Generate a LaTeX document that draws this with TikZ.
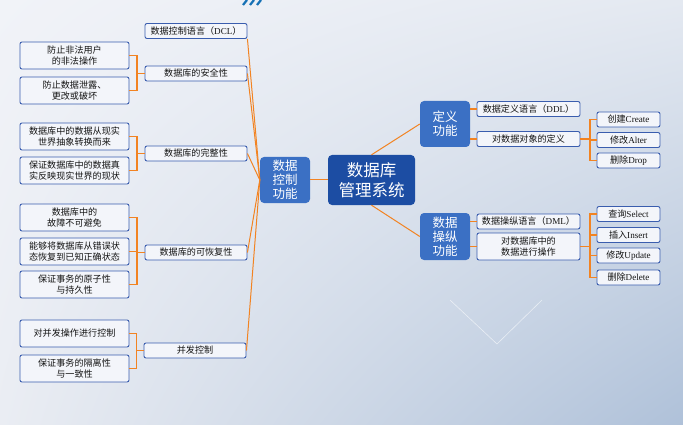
\documentclass[tikz,border=0pt]{standalone}
\usepackage{fontspec}
\setmainfont{Liberation Serif}
\newfontfamily\cjk{Noto Sans CJK SC}
\usetikzlibrary{calc,shadings}
\definecolor{bord}{HTML}{3A5DAE}
\definecolor{boxfill}{HTML}{F3F5FA}
\definecolor{orn}{HTML}{F28322}
\definecolor{midblue}{HTML}{3B70C4}
\definecolor{darkblue}{HTML}{1C4DA3}
\definecolor{bgA}{HTML}{F1F3F8}
\definecolor{bgB}{HTML}{E4E9F1}
\definecolor{bgC}{HTML}{EAEDF3}
\definecolor{bgD}{HTML}{AFC1D9}
\begin{document}
\begin{tikzpicture}[x=1pt,y=-1pt,
  box/.style={draw=bord,fill=boxfill,rounded corners=2pt,line width=0.9pt,inner sep=0pt,align=center,font=\fontsize{9.1}{10.6}\selectfont\cjk,text=black!92},
  leaf/.style={box,minimum width=109pt,minimum height=27pt},
  cat/.style={box,minimum width=102pt,minimum height=15pt},
  rcat/.style={box,minimum width=103pt,minimum height=15pt},
  op/.style={box,minimum width=63pt,minimum height=15pt},
  func/.style={fill=midblue,rounded corners=4pt,inner sep=0pt,align=center,text=white,font=\fontsize{12.5}{14}\selectfont\cjk,minimum width=50pt,minimum height=46pt},
  link/.style={draw=orn,line width=1pt},
  brk/.style={draw=orn,line width=1.3pt}]
% background
\shade[upper left=bgA,upper right=bgB,lower left=bgC,lower right=bgD] (0,0) rectangle (683,425);
\useasboundingbox (0,0) rectangle (683,425);
% decorations
\draw[white,opacity=0.6,line width=0.6pt] (450,300) -- (497,344) -- (542,300);
\foreach \dx in {0,7,14}{\draw[color=darkblue!80!cyan,line width=2.2pt] (243+\dx,5) -- (247+\dx,0);}
% left leaves
\node[leaf] (s1) at (74.5,55.5) {防止非法用户\\的非法操作};
\node[leaf] (s2) at (74.5,90.5) {防止数据泄露、\\更改或破坏};
\node[leaf] (i1) at (74.5,136.5) {数据库中的数据从现实\\世界抽象转换而来};
\node[leaf] (i2) at (74.5,170.5) {保证数据库中的数据真\\实反映现实世界的现状};
\node[leaf] (r1) at (74.5,217.5) {数据库中的\\故障不可避免};
\node[leaf] (r2) at (74.5,251.5) {能够将数据库从错误状\\态恢复到已知正确状态};
\node[leaf] (r3) at (74.5,284.5) {保证事务的原子性\\与持久性};
\node[leaf] (c1) at (74.5,333.5) {对并发操作进行控制};
\node[leaf] (c2) at (74.5,368.5) {保证事务的隔离性\\与一致性};
% categories
\node[cat] (dcl) at (196,31) {数据控制语言（\textrm{DCL}）};
\node[cat] (sec) at (196,73.5) {数据库的安全性};
\node[cat] (int) at (196,153.5) {数据库的完整性};
\node[cat] (rec) at (196,252.5) {数据库的可恢复性};
\node[cat] (con) at (195,350.5) {并发控制};
% centre
\node[func] (ctrl) at (285,180) {数据\\控制\\功能};
\node[func,fill=darkblue,minimum width=87pt,minimum height=50pt,font=\fontsize{16.5}{19.5}\selectfont\cjk] (dbms) at (371.5,180) {数据库\\管理系统};
\node[func] (def) at (445,124) {定义\\功能};
\node[func,minimum height=47pt] (man) at (445,236.5) {数据\\操纵\\功能};
% right side
\node[rcat] (ddl) at (528.5,109) {数据定义语言（\textrm{DDL}）};
\node[rcat] (dobj) at (528.5,139) {对数据对象的定义};
\node[op] (cre) at (628.5,119.5) {创建\textrm{Create}};
\node[op] (alt) at (628.5,140) {修改\textrm{Alter}};
\node[op] (drp) at (628.5,160.5) {删除\textrm{Drop}};
\node[rcat] (dml) at (528.5,221.5) {数据操纵语言（\textrm{DML}）};
\node[rcat,minimum height=27pt] (dop) at (528.5,246.5) {对数据库中的\\数据进行操作};
\node[op] (sel) at (628.5,214) {查询\textrm{Select}};
\node[op] (ins) at (628.5,235) {插入\textrm{Insert}};
\node[op] (upd) at (628.5,255.5) {修改\textrm{Update}};
\node[op] (del) at (628.5,277.5) {删除\textrm{Delete}};
% brackets left
\foreach \a/\b/\p in {s1/s2/sec,i1/i2/int,r1/r3/rec,c1/c2/con}{
  \coordinate (m) at ($(\a.east)!0.5!(\p.west)$);
  \draw[brk] (\a.east) -- (\a.east -| m) -- (\b.east -| m) -- (\b.east);
  \draw[brk] (\p.west) -- (\p.west -| m);
}
\coordinate (m) at ($(r2.east)!0.5!(rec.west)$);
\draw[brk] (r2.east) -- (r2.east -| m);
% brackets right
\coordinate (mr) at (590,0);
\draw[brk] (cre.west) -- (cre.west -| mr) -- (drp.west -| mr) -- (drp.west);
\draw[brk] (alt.west) -- (alt.west -| mr);
\draw[brk] (dobj.east) -- (dobj.east -| mr);
\draw[brk] (sel.west) -- (sel.west -| mr) -- (del.west -| mr) -- (del.west);
\draw[brk] (ins.west) -- (ins.west -| mr);
\draw[brk] (upd.west) -- (upd.west -| mr);
\draw[brk] (dop.east) -- (dop.east -| mr);
% function to language boxes
\draw[brk] (ddl.west) -- (ddl.west -| def.east);
\draw[brk] (dobj.west) -- (dobj.west -| def.east);
\draw[brk] (dml.west) -- (dml.west -| man.east);
\draw[brk] (dop.west) -- (dop.west -| man.east);
% centre links
\draw[link] (ctrl.east) -- (dbms.west);
\draw[link] (dbms.north) -- (def.west);
\draw[link] (dbms.south) -- (man.west);
\draw[link] (dcl.south east) -- (ctrl.west);
\foreach \c in {sec,int,rec,con}{\draw[link] (\c.east) -- (ctrl.west);}
\end{tikzpicture}
\end{document}
